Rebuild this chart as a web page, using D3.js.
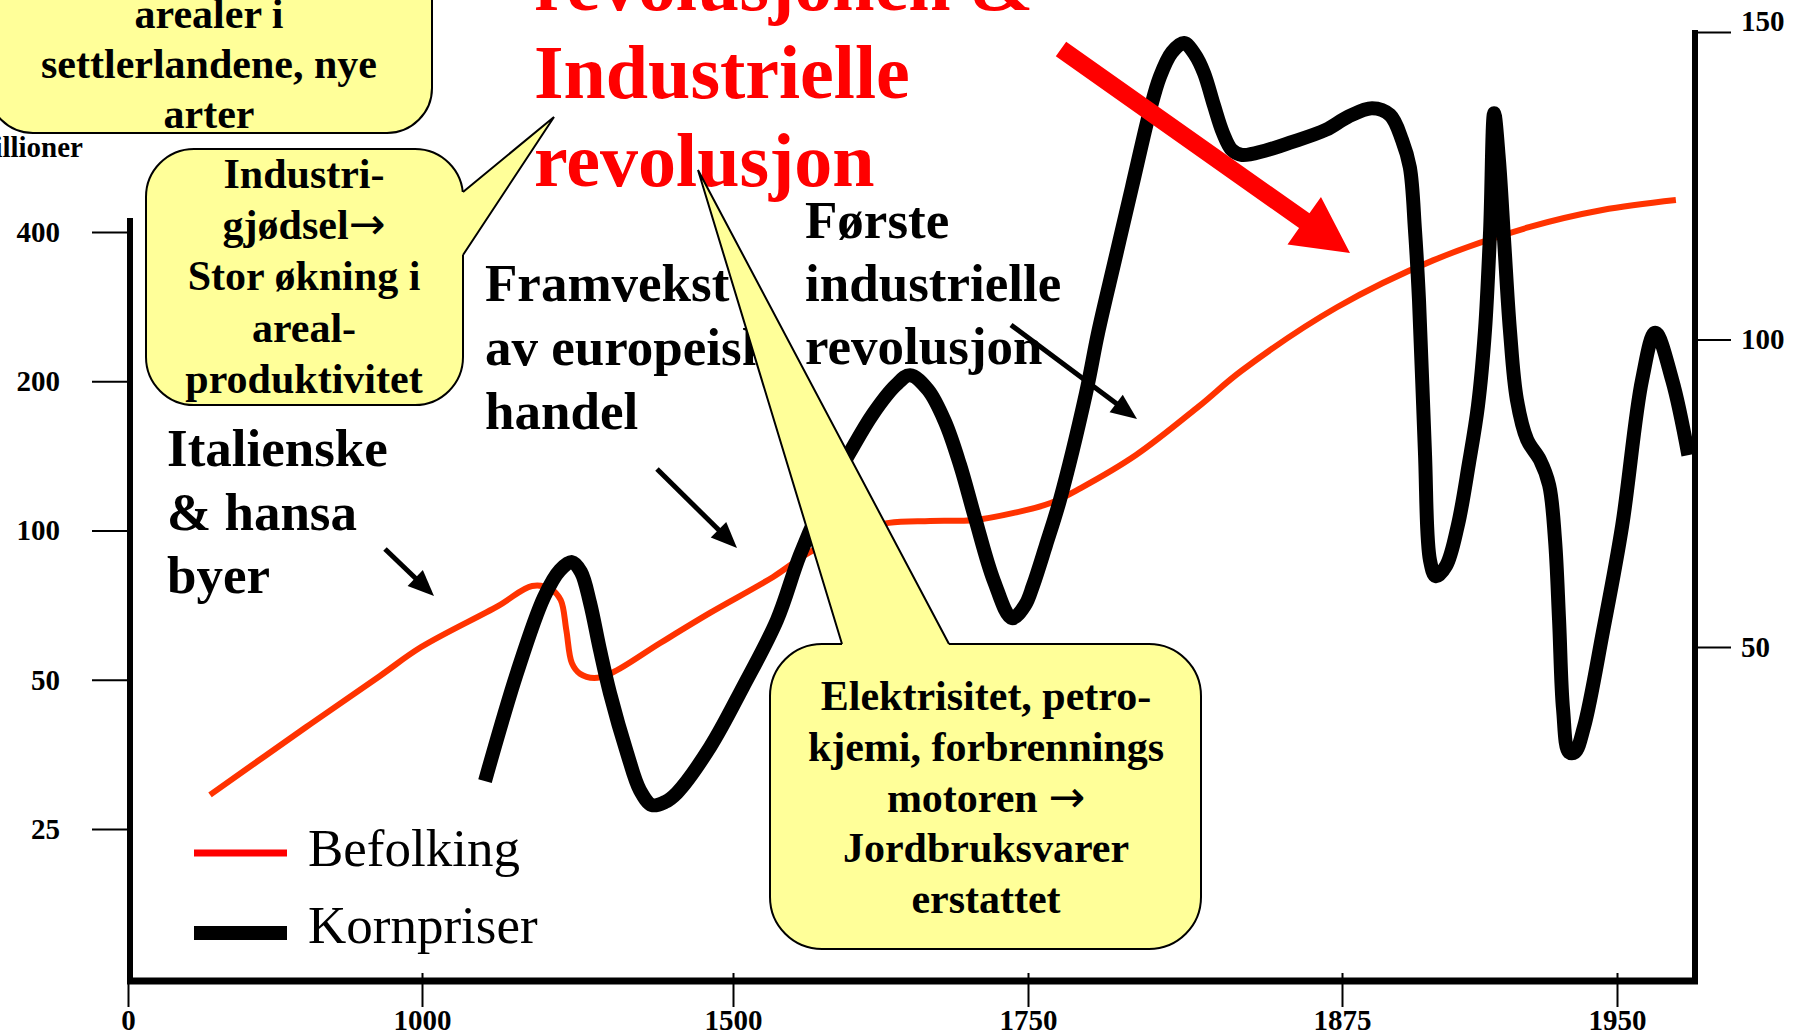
<!DOCTYPE html>
<html>
<head>
<meta charset="utf-8">
<script src="https://cdn.jsdelivr.net/npm/d3@7"></script>
<style>
  body { margin: 0; background: #fff; }
  svg { display: block; }
</style>
</head>
<body>
<div id="chart"></div>
<script>
// Befolking, millioner (venstre akse, log-skala)
const popYears = [279, 605, 857, 997, 1122, 1177, 1207, 1223, 1232, 1241, 1254, 1277, 1305, 1383, 1463,
  1534, 1564, 1599, 1632, 1667, 1705, 1738, 1759, 1771, 1793, 1818, 1835, 1873, 1900, 1926, 1946, 1966];
const popValues = [29.3, 40.1, 50.9, 58.2, 70.4, 77.3, 76.2, 72.4, 63.0, 54.0, 51.4, 50.4, 51.6, 59.3, 68.2,
  80.6, 90.1, 98.9, 103.6, 104.5, 105.0, 108.5, 113.6, 121.8, 142, 178, 210, 282, 351, 409, 443, 464];

// Kornpriser, indeks (hoyre akse)
const priceYears = [1101.3, 1152.7, 1196.1, 1221.9, 1241.2, 1255.6, 1270.1, 1286.2, 1302.2, 1329.6,
  1350.5, 1369.8, 1390.7, 1410.0, 1463.0, 1508.5, 1537.3, 1556.8, 1579.7, 1599.2,
  1618.6, 1638.1, 1650.0, 1665.3, 1679.7, 1692.4, 1705.1, 1721.2, 1736.4, 1747.5,
  1752.0, 1757.2, 1762.7, 1773.1, 1777.9, 1784.6, 1791.4, 1798.6, 1802.5, 1807.3,
  1812.1, 1816.5, 1820.1, 1824.0, 1827.6, 1831.2, 1835.2, 1844.3, 1854.3, 1868.6,
  1876.6, 1883.2, 1888.1, 1891.4, 1893.5, 1894.9, 1896.0, 1897.6, 1899.0, 1900.6,
  1903.4, 1906.6, 1909.6, 1912.1, 1914.0, 1915.4, 1916.5, 1917.8, 1919.2, 1920.8,
  1922.7, 1925.5, 1929.0, 1931.5, 1933.1, 1934.2, 1935.3, 1936.9, 1938.5, 1941.0,
  1946.2, 1951.4, 1956.8, 1960.4, 1965.0, 1969.4];
const priceValues = [28.2, 45.8, 58.1, 62.5, 63.8, 62.2, 57.2, 49.5, 42.5, 32.8,
  26.7, 24.3, 24.8, 26.3, 33.7, 43.5, 54.4, 65.0, 74.9, 81.7,
  87.9, 92.6, 94.2, 91.8, 86.6, 79.6, 71.0, 60.7, 54.7, 56.8,
  60.0, 66.6, 73.9, 91.3, 101.1, 112.9, 124.8, 137.3, 142.7, 146.7,
  148.2, 146.3, 143.3, 138.1, 133.6, 130.8, 130.0, 130.7, 132.0, 134.1,
  136.2, 137.6, 136.5, 132.4, 128.0, 117.8, 106.4, 82.0, 64.1, 61.5,
  63.2, 69.8, 79.8, 89.3, 101.5, 117.8, 136.8, 129.2, 116.2, 101.5,
  90.2, 83.7, 80.4, 76.3, 67.4, 54.4, 39.8, 32.9, 32.9, 37.0,
  52.6, 69.7, 93.4, 101.1, 93.4, 81.2];

const xTicks = [0, 1000, 1500, 1750, 1875, 1950];
const leftTicks = [25, 50, 100, 200, 400];
const rightTicks = [50, 100, 150];
const legendLabels = ['Befolking', 'Kornpriser'];

const titleText = ['revolusjonen &', 'Industrielle', 'revolusjon'];
const italText = ['Italienske', '& hansa', 'byer'];
const tradeText = ['Framvekst', 'av europeisk', 'handel'];
const firstIndText = ['Første', 'industrielle', 'revolusjon'];
const boxAText = ['arealer i', 'settlerlandene, nye', 'arter'];
const boxBText = ['Industri-', 'gjødsel→', 'Stor økning i', 'areal-', 'produktivitet'];
const boxCText = ['Elektrisitet, petro-', 'kjemi, forbrennings', 'motoren →', 'Jordbruksvarer', 'erstattet'];

const W = 1802, H = 1035;
const serif = '"Liberation Serif", "Times New Roman", serif';
const yellow = '#ffff99';

// x-aksen har like avstand mellom merkene, ikke mellom årene
const x = d3.scaleLinear()
  .domain([0, 1000, 1500, 1750, 1875, 1950, 1975])
  .range([128, 422, 733, 1028, 1342, 1617, 1709]);
const yL = d3.scaleLog().base(2).domain([25, 400]).range([829, 232]);
const yR = d3.scaleLinear().domain([50, 150]).range([647, 32]);

const svg = d3.select('#chart').append('svg')
  .attr('width', W).attr('height', H)
  .style('background', '#fff');

function styleAxisText(g, size) {
  g.selectAll('text')
    .attr('font-family', serif)
    .attr('font-weight', 'bold')
    .attr('font-size', size)
    .attr('fill', '#000');
  g.selectAll('.tick line').attr('stroke', '#000').attr('stroke-width', 2);
  g.select('.domain').remove();
}

// venstre akse
const axL = svg.append('g').attr('transform', 'translate(130,0)')
  .call(d3.axisLeft(yL).tickValues(leftTicks).tickSize(38).tickPadding(32).tickFormat(d3.format('d')));
styleAxisText(axL, 29);

// høyre akse
const axR = svg.append('g').attr('transform', 'translate(1695,0)')
  .call(d3.axisRight(yR).tickValues(rightTicks).tickSize(36).tickPadding(10).tickFormat(d3.format('d')));
styleAxisText(axR, 29);
axR.selectAll('.tick text').filter(d => d === 150).attr('dy', '-0.05em');

// bunnakse
const axB = svg.append('g').attr('transform', 'translate(0,973)')
  .call(d3.axisBottom(x).tickValues(xTicks).tickSize(34).tickFormat(d3.format('d')));
styleAxisText(axB, 29);
axB.selectAll('.tick text').attr('y', 57).attr('dy', 0);

svg.append('line').attr('x1', 130).attr('x2', 130).attr('y1', 218).attr('y2', 984)
  .attr('stroke', '#000').attr('stroke-width', 6);
svg.append('line').attr('x1', 1695).attr('x2', 1695).attr('y1', 30).attr('y2', 984)
  .attr('stroke', '#000').attr('stroke-width', 6);
svg.append('line').attr('x1', 127).attr('x2', 1698).attr('y1', 981).attr('y2', 981)
  .attr('stroke', '#000').attr('stroke-width', 7);

svg.append('text').attr('x', 83).attr('y', 157).attr('text-anchor', 'end')
  .attr('font-family', serif).attr('font-weight', 'bold').attr('font-size', 29)
  .text('Millioner');

// tekst med pil: pila settes i en egen tspan med en font som har en lang pil
function fillLine(sel, d, arrowSize) {
  const parts = d.split('→');
  sel.append('tspan').text(parts[0]);
  if (parts.length > 1) {
    sel.append('tspan').attr('font-family', '"DejaVu Sans", sans-serif')
      .attr('font-weight', 'normal').attr('font-size', arrowSize).text('→');
    if (parts[1]) sel.append('tspan').text(parts[1]);
  }
}

// tekstblokker
function textBlock(lines, x0, y0, lh, size, color) {
  svg.append('g')
    .attr('font-family', serif).attr('font-weight', 'bold').attr('font-size', size)
    .attr('fill', color)
    .selectAll('text').data(lines).join('text')
    .attr('x', x0).attr('y', (d, i) => y0 + i * lh)
    .text(d => d);
}
textBlock(italText, 167, 466, 63.5, 53, '#000');
textBlock(tradeText, 485, 301, 64, 53, '#000');
textBlock(firstIndText, 805, 238, 63, 53, '#000');

// seriene
const popData = popYears.map((d, i) => [d, popValues[i]]);
const priceData = priceYears.map((d, i) => [d, priceValues[i]]);

svg.append('path').datum(popData)
  .attr('d', d3.line().x(d => x(d[0])).y(d => yL(d[1])).curve(d3.curveCatmullRom.alpha(0.5)))
  .attr('fill', 'none').attr('stroke', '#ff3300').attr('stroke-width', 6);

svg.append('path').datum(priceData)
  .attr('d', d3.line().x(d => x(d[0])).y(d => yR(d[1])).curve(d3.curveCatmullRom.alpha(0.5)))
  .attr('fill', 'none').attr('stroke', '#000').attr('stroke-width', 14)
  .attr('stroke-linejoin', 'round');

// små svarte piler
function blackArrow(x1, y1, x2, y2) {
  const len = Math.hypot(x2 - x1, y2 - y1);
  const ux = (x2 - x1) / len, uy = (y2 - y1) / len;
  const px = -uy, py = ux;
  const hl = 26, hw = 22;
  const bx = x2 - ux * hl, by = y2 - uy * hl;
  svg.append('line').attr('x1', x1).attr('y1', y1).attr('x2', bx + ux * 4).attr('y2', by + uy * 4)
    .attr('stroke', '#000').attr('stroke-width', 5);
  svg.append('polygon')
    .attr('points', [[x2, y2], [bx + px * hw / 2, by + py * hw / 2], [bx - px * hw / 2, by - py * hw / 2]].join(' '))
    .attr('fill', '#000');
}
blackArrow(385, 549, 434, 596);
blackArrow(657, 469, 737, 548);
blackArrow(1011, 325, 1137, 419);

// stor rød pil
(function () {
  const sx = 1061, sy = 49, tx = 1350, ty = 253;
  const len = Math.hypot(tx - sx, ty - sy);
  const ux = (tx - sx) / len, uy = (ty - sy) / len;
  const px = -uy, py = ux;
  const sw = 9, hw = 29, hl = 56;
  const bx = tx - ux * hl, by = ty - uy * hl;
  const pts = [
    [sx + px * sw, sy + py * sw], [bx + px * sw, by + py * sw], [bx + px * hw, by + py * hw],
    [tx, ty],
    [bx - px * hw, by - py * hw], [bx - px * sw, by - py * sw], [sx - px * sw, sy - py * sw]
  ];
  svg.append('polygon').attr('points', pts.join(' ')).attr('fill', '#ff0000');
})();

// rød overskrift
textBlock(titleText, 534, 10, 88, 76, '#ff0000');

// snakkebobler
function callout(box, pointer, lines, cx, y0, lh) {
  const g = svg.append('g');
  g.append('rect')
    .attr('x', box[0]).attr('y', box[1])
    .attr('width', box[2] - box[0]).attr('height', box[3] - box[1])
    .attr('rx', box[4]).attr('ry', box[4])
    .attr('fill', yellow).attr('stroke', '#000').attr('stroke-width', 2);
  if (pointer) {
    const [b1, tip, b2, inw] = pointer;
    g.append('polygon')
      .attr('points', [[b1[0] + inw[0], b1[1] + inw[1]], b1, tip, b2, [b2[0] + inw[0], b2[1] + inw[1]]].join(' '))
      .attr('fill', yellow);
    g.append('polyline').attr('points', [b1, tip, b2].join(' '))
      .attr('fill', 'none').attr('stroke', '#000').attr('stroke-width', 2)
      .attr('stroke-linejoin', 'miter');
  }
  g.append('g')
    .attr('font-family', serif).attr('font-weight', 'bold').attr('font-size', 42)
    .attr('text-anchor', 'middle')
    .selectAll('text').data(lines).join('text')
    .attr('x', cx).attr('y', (d, i) => y0 + i * lh)
    .each(function (d) { fillLine(d3.select(this), d, 44); });
}
callout([-12, -100, 432, 133, 45], null, boxAText, 209, 28, 50);
callout([146, 149, 463, 405, 48], [[463, 192], [554, 117], [463, 255], [-4, 0]], boxBText, 304, 188, 51.2);
callout([770, 644, 1201, 949, 52], [[842, 644], [698, 170], [949, 644], [0, 4]], boxCText, 986, 710, 50.8);

// tegnforklaring
const legend = svg.append('g');
legend.selectAll('line').data(legendLabels).join('line')
  .attr('x1', 194).attr('x2', 287)
  .attr('y1', (d, i) => 853 + i * 80).attr('y2', (d, i) => 853 + i * 80)
  .attr('stroke', (d, i) => i === 0 ? '#ff0000' : '#000')
  .attr('stroke-width', (d, i) => i === 0 ? 7 : 14);
legend.selectAll('text').data(legendLabels).join('text')
  .attr('x', 308).attr('y', (d, i) => 866 + i * 77)
  .attr('font-family', serif).attr('font-size', 53)
  .text(d => d);
</script>
</body>
</html>
